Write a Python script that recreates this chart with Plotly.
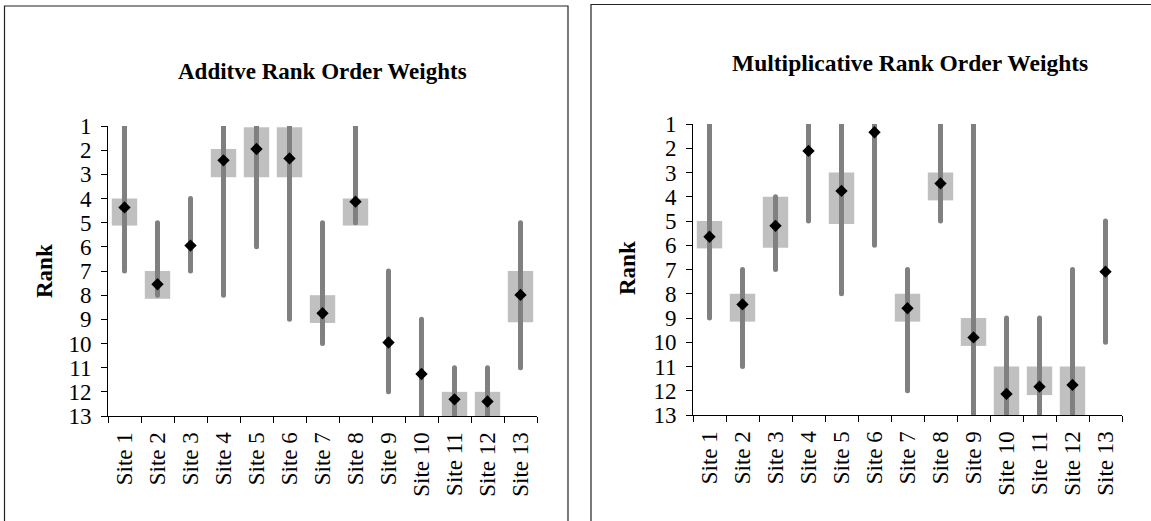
import plotly.graph_objects as go

W, H = 1151, 521

sites = [f"Site {i}" for i in range(1, 14)]

# Additive rank order weights
add_min = [1, 5, 4, 1, 1, 1, 5, 1, 7, 9, 11, 11, 5]
add_max = [7, 8, 7, 8, 6, 9, 10, 5, 12, 13, 13, 13, 11]
add_box_lo = [4, 7, None, 1.95, 1.05, 1.05, 8, 4, None, None, 12, 12, 7]
add_box_hi = [5.12, 8.15, None, 3.12, 3.12, 3.12, 9.15, 5.12, None, None, 13, 13, 9.12]
add_mean = [4.37, 7.55, 5.95, 2.42, 1.95, 2.34, 8.75, 4.13, 9.96, 11.26, 12.31, 12.4, 7.99]

# Multiplicative rank order weights
mul_min = [1, 7, 4, 1, 1, 1, 7, 1, 1, 9, 9, 7, 5]
mul_max = [9, 11, 7, 5, 8, 6, 12, 5, 13, 13, 13, 13, 10]
mul_box_lo = [5, 8, 4, None, 3, None, 8, 3, 9, 11, 11, 11, None]
mul_box_hi = [6.13, 9.15, 6.1, None, 5.12, None, 9.15, 4.15, 10.15, 13, 12.18, 13, None]
mul_mean = [5.65, 8.44, 5.2, 2.11, 3.76, 1.34, 8.6, 3.45, 9.8, 12.13, 11.83, 11.76, 7.09]

rank_ticks = list(range(1, 14))

FONT = "Liberation Serif, Times New Roman, serif"
LINE_GRAY = "#808080"
BOX_GRAY = "#c0c0c0"

fig = go.Figure()


def add_panel(xa, ya, mins, maxs, box_lo, box_hi, means):
    heights = [None if lo is None else hi - lo for lo, hi in zip(box_lo, box_hi)]
    fig.add_trace(go.Bar(
        x=sites, y=heights, base=box_lo, width=0.77,
        marker=dict(color=BOX_GRAY, line=dict(width=0)),
        xaxis=xa, yaxis=ya, showlegend=False, hoverinfo="skip",
    ))
    xs, ys = [], []
    for s, lo, hi in zip(sites, mins, maxs):
        xs += [s, s, None]
        ys += [lo, hi, None]
    fig.add_trace(go.Scatter(
        x=xs, y=ys, mode="lines+markers",
        line=dict(color=LINE_GRAY, width=5),
        marker=dict(color=LINE_GRAY, size=5, symbol="circle"),
        xaxis=xa, yaxis=ya, showlegend=False, hoverinfo="skip",
    ))
    fig.add_trace(go.Scatter(
        x=sites, y=means, mode="markers",
        marker=dict(color="black", size=9.5, symbol="diamond"),
        xaxis=xa, yaxis=ya, showlegend=False, cliponaxis=False,
    ))


add_panel("x", "y", add_min, add_max, add_box_lo, add_box_hi, add_mean)
add_panel("x2", "y2", mul_min, mul_max, mul_box_lo, mul_box_hi, mul_mean)

xaxis_common = dict(
    type="category", categoryorder="array", categoryarray=sites,
    range=[-0.5, 12.5], tickson="boundaries",
    ticks="outside", ticklen=6, tickwidth=1, tickcolor="black",
    showline=True, linecolor="black", linewidth=1,
    showgrid=False, zeroline=False, tickangle=-90, automargin=False,
    ticklabelstandoff=6,
    tickfont=dict(family=FONT, size=23, color="black"),
)
yaxis_common = dict(
    range=[13, 1], tickvals=rank_ticks, ticktext=[str(t) for t in rank_ticks],
    ticks="outside", ticklen=6, tickwidth=1, tickcolor="black",
    showline=True, linecolor="black", linewidth=1,
    showgrid=False, zeroline=False, automargin=False,
    ticklabelstandoff=5,
    tickfont=dict(family=FONT, size=23, color="black"),
)

fig.update_layout(
    width=W, height=H,
    margin=dict(l=0, r=0, t=0, b=0, autoexpand=False),
    paper_bgcolor="white", plot_bgcolor="white",
    barmode="overlay",
    xaxis=dict(domain=[108 / W, 537 / W], anchor="y", **xaxis_common),
    yaxis=dict(domain=[(H - 416) / H, (H - 126) / H], anchor="x", **yaxis_common),
    xaxis2=dict(domain=[693 / W, 1122 / W], anchor="y2", **xaxis_common),
    yaxis2=dict(domain=[(H - 415) / H, (H - 124) / H], anchor="x2", **yaxis_common),
    shapes=[
        dict(type="rect", xref="paper", yref="paper",
             x0=4.5 / W, x1=568 / W, y0=-0.05, y1=(H - 6) / H,
             line=dict(color="#222222", width=1.2), fillcolor="rgba(0,0,0,0)"),
        dict(type="rect", xref="paper", yref="paper",
             x0=591 / W, x1=1.05, y0=-0.05, y1=(H - 4.5) / H,
             line=dict(color="#222222", width=1.2), fillcolor="rgba(0,0,0,0)"),
    ],
    annotations=[
        dict(text="<b>Additve Rank Order Weights</b>", xref="paper", yref="paper",
             x=322 / W, y=(H - 71) / H, xanchor="center", yanchor="middle",
             showarrow=False, font=dict(family=FONT, size=23, color="black")),
        dict(text="<b>Multiplicative Rank Order Weights</b>", xref="paper", yref="paper",
             x=910 / W, y=(H - 63) / H, xanchor="center", yanchor="middle",
             showarrow=False, font=dict(family=FONT, size=23.5, color="black")),
        dict(text="<b>Rank</b>", xref="paper", yref="paper",
             x=44 / W, y=(H - 271) / H, xanchor="center", yanchor="middle",
             textangle=-90, showarrow=False,
             font=dict(family=FONT, size=23, color="black")),
        dict(text="<b>Rank</b>", xref="paper", yref="paper",
             x=627 / W, y=(H - 268) / H, xanchor="center", yanchor="middle",
             textangle=-90, showarrow=False,
             font=dict(family=FONT, size=23, color="black")),
    ],
)

fig.write_html("out.html")
